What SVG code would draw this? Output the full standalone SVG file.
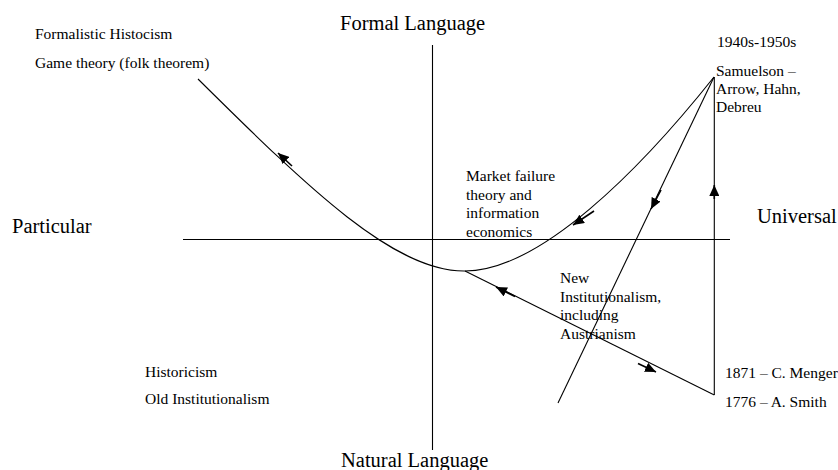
<svg xmlns="http://www.w3.org/2000/svg" width="838" height="470" viewBox="0 0 838 470">
<style>
  .big { font-family: "Liberation Serif", "Times New Roman", serif; font-size: 20.5px; fill: #000; }
  .sm { font-family: "Liberation Serif", "Times New Roman", serif; font-size: 15.5px; fill: #000; }
  .ln { fill: none; stroke: #000; stroke-width: 1.1; }
  .ar { fill: none; stroke: #000; stroke-width: 1.6; marker-end: url(#ah); }
</style>
<defs>
  <marker id="ah" markerUnits="userSpaceOnUse" markerWidth="13" markerHeight="10" refX="11" refY="5" orient="auto">
    <path d="M0,0 L11,5 L0,10 z" fill="#000"/>
  </marker>
</defs>
<rect width="838" height="470" fill="#fff"/>

<g id="axes">
  <line class="ln" x1="432.5" y1="45" x2="432.5" y2="450"/>
  <line class="ln" x1="183" y1="239.5" x2="730" y2="239.5"/>
</g>

<g id="connectors">
  <path class="ln" d="M198,79 C310,190 395,272 465,271"/>
  <path class="ln" d="M465,271 C540,271 640,170 714,77"/>
  <line class="ln" x1="714" y1="77" x2="558" y2="403"/>
  <line class="ln" x1="714.3" y1="77" x2="714.3" y2="395"/>
  <line class="ln" x1="714.3" y1="395" x2="465" y2="271"/>
  <path class="ar" d="M292,166 L278,153"/>
  <path class="ar" d="M594,211 L573,225"/>
  <path class="ar" d="M661,190 L651,209"/>
  <path class="ar" d="M714.3,199 L714.3,185"/>
  <path class="ar" d="M515,296.5 L496,287"/>
  <path class="ar" d="M638,363.5 L656,372"/>
</g>

<g id="formal-language"><text class="big" x="340" y="30">Formal Language</text></g>
<g id="natural-language"><text class="big" x="341" y="467">Natural Language</text></g>
<g id="particular"><text class="big" x="12" y="233">Particular</text></g>
<g id="universal"><text class="big" x="757" y="223">Universal</text></g>

<g id="formalistic-historicism">
  <text class="sm" x="35" y="39">Formalistic Histocism</text>
  <text class="sm" x="35" y="68">Game theory (folk theorem)</text>
</g>
<g id="samuelson">
  <text class="sm" x="717" y="47">1940s-1950s</text>
  <text class="sm" x="716" y="76">Samuelson –</text>
  <text class="sm" x="716" y="94">Arrow, Hahn,</text>
  <text class="sm" x="716" y="112">Debreu</text>
</g>
<g id="market-failure">
  <text class="sm" x="466" y="181">Market failure</text>
  <text class="sm" x="466" y="199.5">theory and</text>
  <text class="sm" x="466" y="218">information</text>
  <text class="sm" x="466" y="236.5">economics</text>
</g>
<g id="new-institutionalism">
  <text class="sm" x="560" y="283">New</text>
  <text class="sm" x="560" y="301.5">Institutionalism,</text>
  <text class="sm" x="560" y="320">including</text>
  <text class="sm" x="560" y="338.5">Austrianism</text>
</g>
<g id="menger-smith">
  <text class="sm" x="725" y="378">1871 – C. Menger</text>
  <text class="sm" x="725" y="407">1776 – A. Smith</text>
</g>
<g id="historicism">
  <text class="sm" x="145" y="377">Historicism</text>
  <text class="sm" x="145" y="404">Old Institutionalism</text>
</g>
</svg>
